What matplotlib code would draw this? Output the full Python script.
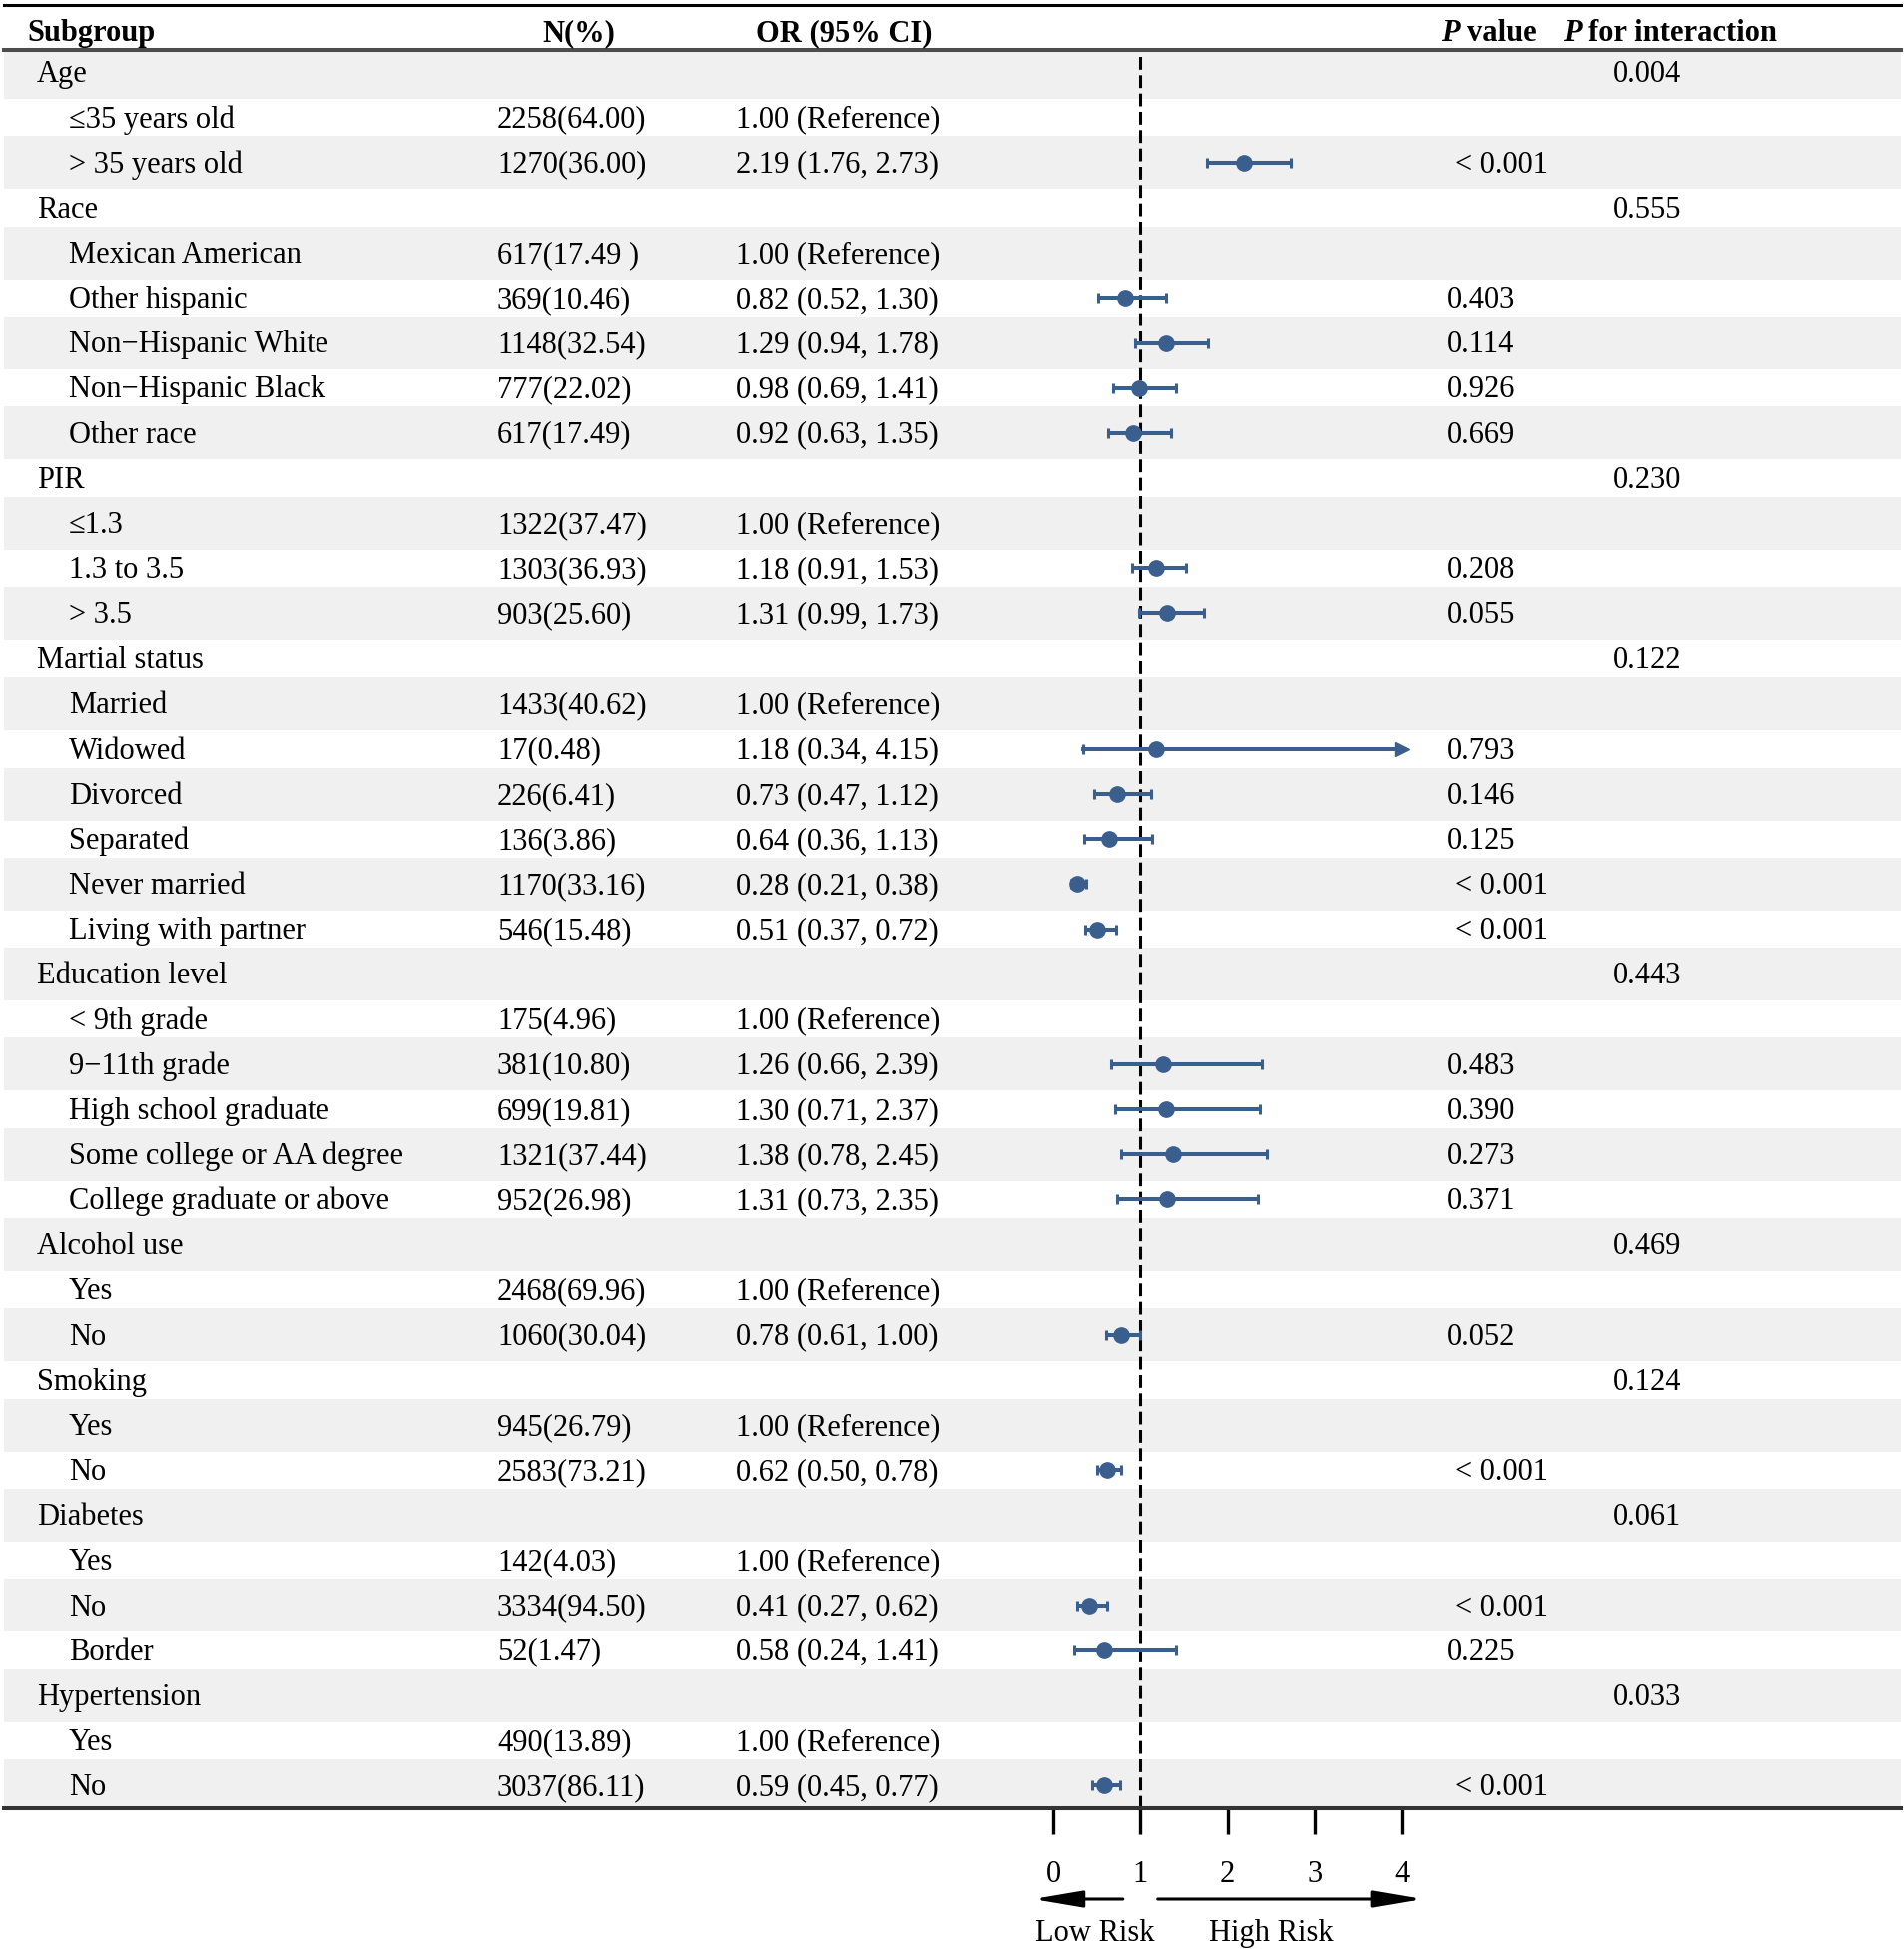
import numpy as np
import matplotlib
matplotlib.use('Agg')
import matplotlib.pyplot as plt
from matplotlib.transforms import blended_transform_factory
from matplotlib.patches import Rectangle
from matplotlib.lines import Line2D

plt.rcParams['font.family'] = ['Liberation Serif', 'DejaVu Serif']

labels = ["Age", "≤35 years old", "> 35 years old",
          "Race", "Mexican American", "Other hispanic", "Non−Hispanic White",
          "Non−Hispanic Black", "Other race",
          "PIR", "≤1.3", "1.3 to 3.5", "> 3.5",
          "Martial status", "Married", "Widowed", "Divorced", "Separated",
          "Never married", "Living with partner",
          "Education level", "< 9th grade", "9−11th grade", "High school graduate",
          "Some college or AA degree", "College graduate or above",
          "Alcohol use", "Yes", "No",
          "Smoking", "Yes", "No",
          "Diabetes", "Yes", "No", "Border",
          "Hypertension", "Yes", "No"]
group_rows = [0, 3, 9, 13, 20, 26, 29, 32, 36]

n_pct = ["", "2258(64.00)", "1270(36.00)",
         "", "617(17.49 )", "369(10.46)", "1148(32.54)", "777(22.02)", "617(17.49)",
         "", "1322(37.47)", "1303(36.93)", "903(25.60)",
         "", "1433(40.62)", "17(0.48)", "226(6.41)", "136(3.86)", "1170(33.16)", "546(15.48)",
         "", "175(4.96)", "381(10.80)", "699(19.81)", "1321(37.44)", "952(26.98)",
         "", "2468(69.96)", "1060(30.04)",
         "", "945(26.79)", "2583(73.21)",
         "", "142(4.03)", "3334(94.50)", "52(1.47)",
         "", "490(13.89)", "3037(86.11)"]

or_text = ["", "1.00 (Reference)", "2.19 (1.76, 2.73)",
           "", "1.00 (Reference)", "0.82 (0.52, 1.30)", "1.29 (0.94, 1.78)",
           "0.98 (0.69, 1.41)", "0.92 (0.63, 1.35)",
           "", "1.00 (Reference)", "1.18 (0.91, 1.53)", "1.31 (0.99, 1.73)",
           "", "1.00 (Reference)", "1.18 (0.34, 4.15)", "0.73 (0.47, 1.12)",
           "0.64 (0.36, 1.13)", "0.28 (0.21, 0.38)", "0.51 (0.37, 0.72)",
           "", "1.00 (Reference)", "1.26 (0.66, 2.39)", "1.30 (0.71, 2.37)",
           "1.38 (0.78, 2.45)", "1.31 (0.73, 2.35)",
           "", "1.00 (Reference)", "0.78 (0.61, 1.00)",
           "", "1.00 (Reference)", "0.62 (0.50, 0.78)",
           "", "1.00 (Reference)", "0.41 (0.27, 0.62)", "0.58 (0.24, 1.41)",
           "", "1.00 (Reference)", "0.59 (0.45, 0.77)"]

nan = np.nan
or_est = [nan, nan, 2.19, nan, nan, 0.82, 1.29, 0.98, 0.92, nan, nan, 1.18, 1.31,
          nan, nan, 1.18, 0.73, 0.64, 0.28, 0.51, nan, nan, 1.26, 1.30, 1.38, 1.31,
          nan, nan, 0.78, nan, nan, 0.62, nan, nan, 0.41, 0.58, nan, nan, 0.59]
ci_low = [nan, nan, 1.76, nan, nan, 0.52, 0.94, 0.69, 0.63, nan, nan, 0.91, 0.99,
          nan, nan, 0.34, 0.47, 0.36, 0.21, 0.37, nan, nan, 0.66, 0.71, 0.78, 0.73,
          nan, nan, 0.61, nan, nan, 0.50, nan, nan, 0.27, 0.24, nan, nan, 0.45]
ci_high = [nan, nan, 2.73, nan, nan, 1.30, 1.78, 1.41, 1.35, nan, nan, 1.53, 1.73,
           nan, nan, 4.15, 1.12, 1.13, 0.38, 0.72, nan, nan, 2.39, 2.37, 2.45, 2.35,
           nan, nan, 1.00, nan, nan, 0.78, nan, nan, 0.62, 1.41, nan, nan, 0.77]

p_value = ["", "", "< 0.001", "", "", "0.403", "0.114", "0.926", "0.669",
           "", "", "0.208", "0.055", "", "", "0.793", "0.146", "0.125", "< 0.001", "< 0.001",
           "", "", "0.483", "0.390", "0.273", "0.371", "", "", "0.052",
           "", "", "< 0.001", "", "", "< 0.001", "0.225", "", "", "< 0.001"]
p_inter = {0: "0.004", 3: "0.555", 9: "0.230", 13: "0.122", 20: "0.443",
           26: "0.469", 29: "0.124", 32: "0.061", 36: "0.033"}

W, H = 1908, 1956
fig = plt.figure(figsize=(W / 100, H / 100), dpi=100)


def fx(px):
    return px / W


def fy(py):
    return 1 - py / H


blue = '#3a5f8f'
fs = 22
n = len(labels)
head_y, bottom_y = 51, 1812
x0_px, x4_px = 1055, 1404

ax = fig.add_axes([fx(x0_px), fy(bottom_y), fx(x4_px) - fx(x0_px), fy(head_y) - fy(bottom_y)])
ax.set_xlim(0, 4)
ax.set_ylim(n - 0.5, -0.5)
ax.patch.set_visible(False)
for s in ['top', 'right', 'left']:
    ax.spines[s].set_visible(False)
ax.spines['bottom'].set_linewidth(2.9)
ax.set_yticks([])
ax.set_xticks([0, 1, 2, 3, 4])
ax.tick_params(axis='x', direction='out', length=19, width=2.4, pad=18, labelsize=fs)

trans = blended_transform_factory(fig.transFigure, ax.transData)

# shaded rows
half = 0.587
for i in range(0, n, 2):
    y0 = max(i - half, -0.5)
    y1 = min(i + half, n - 0.5)
    ax.add_patch(Rectangle((fx(4), y0), fx(1904) - fx(4), y1 - y0, transform=trans,
                           facecolor='#f0f0f0', edgecolor='none', zorder=0, clip_on=False))

# rules
fig.add_artist(Line2D([fx(4), fx(1904)], [fy(6), fy(6)], color='black', lw=2.2))
fig.add_artist(Line2D([fx(4), fx(1904)], [fy(head_y), fy(head_y)], color='#4d4d4d', lw=2.9))
fig.add_artist(Line2D([fx(4), fx(1904)], [fy(bottom_y), fy(bottom_y)], color='#333333', lw=2.9))

# header
hy = fy(30)
hkw = dict(fontsize=fs, fontweight='bold', va='center_baseline')
fig.text(fx(27), hy, "Subgroup", **hkw)
fig.text(fx(580), hy, "N(%)", ha='center', **hkw)
fig.text(fx(845), hy, "OR (95% CI)", ha='center', **hkw)
renderer = fig.canvas.get_renderer()
for xp, rest in [(1443, "value"), (1565, "for interaction")]:
    p = fig.text(fx(xp), hy, "P", style='italic', **hkw)
    right = p.get_window_extent(renderer).x1
    fig.text((right + 7) / W, hy, rest, **hkw)

# table text
dy = -0.05
for i in range(n):
    xl = 37 if i in group_rows else 69
    yt = i + dy
    ax.text(fx(xl), yt, labels[i], transform=trans, fontsize=fs, va='center_baseline', clip_on=False)
    ax.text(fx(498), yt, n_pct[i], transform=trans, fontsize=fs, va='center_baseline', clip_on=False)
    ax.text(fx(737), yt, or_text[i], transform=trans, fontsize=fs, va='center_baseline', clip_on=False)
    if p_value[i]:
        xp = 1457 if p_value[i].startswith('<') else 1449
        ax.text(fx(xp), yt, p_value[i], transform=trans, fontsize=fs, va='center_baseline', clip_on=False)
    if i in p_inter:
        ax.text(fx(1616), yt, p_inter[i], transform=trans, fontsize=fs, va='center_baseline', clip_on=False)

# reference line
ax.axvline(1, color='black', lw=2.2, ls=(0, (4.2, 1.8)), zorder=2)

# estimates
est = np.array(or_est)
lo = np.array(ci_low)
hi = np.array(ci_high)
rows = np.arange(n)
ok = ~np.isnan(est) & (hi <= 4)
ax.errorbar(est[ok], rows[ok], xerr=[est[ok] - lo[ok], hi[ok] - est[ok]], fmt='o',
            color=blue, ms=11, elinewidth=2.9, capsize=3.6, capthick=2.2, zorder=3)
over = ~np.isnan(est) & (hi > 4)
for i in rows[over]:
    ax.plot([lo[i], 4], [i, i], color=blue, lw=2.9, zorder=3, clip_on=False)
    ax.plot(lo[i], i, marker='|', ms=7.2, mew=2.2, color=blue, zorder=3)
    ax.plot(4, i, marker='>', ms=10, color=blue, zorder=3, clip_on=False)
    ax.plot(est[i], i, marker='o', ms=11, color=blue, zorder=3)

# risk arrows
atr = blended_transform_factory(ax.transData, fig.transFigure)
ay = fy(1903)
arr = dict(arrowstyle='-|>,head_length=1.0,head_width=0.17', lw=2.2, color='black',
           mutation_scale=30, shrinkA=0, shrinkB=0)
ax.annotate('', xy=(-0.23, ay), xytext=(0.80, ay), xycoords=atr, textcoords=atr, arrowprops=arr)
ax.annotate('', xy=(4.24, ay), xytext=(1.20, ay), xycoords=atr, textcoords=atr, arrowprops=arr)
fig.text(fx(1097), fy(1933), "Low Risk", fontsize=fs, ha='center', va='center_baseline')
fig.text(fx(1273), fy(1933), "High Risk", fontsize=fs, ha='center', va='center_baseline')

fig.savefig('out.png', dpi=100)
